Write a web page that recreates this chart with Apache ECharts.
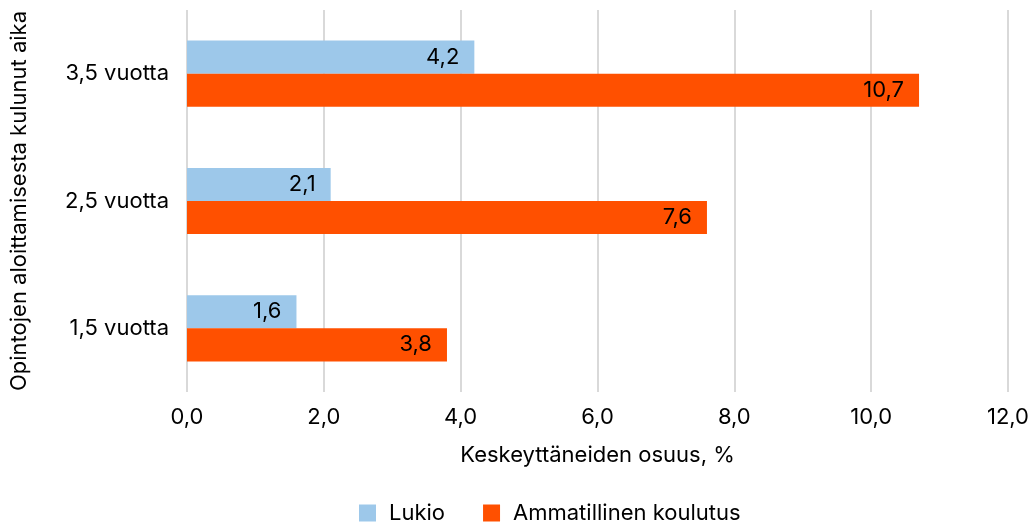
<!DOCTYPE html>
<html>
<head>
<meta charset="utf-8">
<script src="https://cdn.jsdelivr.net/npm/echarts@6/dist/echarts.min.js"></script>
<style>
  html, body { margin: 0; padding: 0; background: #fff; }
  #chart { width: 1032px; height: 529px; }
</style>
</head>
<body>
<div id="chart"></div>
<script>
// kategoriat alhaalta ylös
const categories = ['1,5 vuotta', '2,5 vuotta', '3,5 vuotta'];
const lukio = [1.6, 2.1, 4.2];
const ammatillinen = [3.8, 7.6, 10.7];
const seriesNames = ['Lukio', 'Ammatillinen koulutus'];

const font = 'Inter, Roboto, sans-serif';
const fmt = v => v.toFixed(1).replace('.', ',');

let myChart = echarts.init(document.getElementById('chart'));

let labelOption = {
    show: true,
    position: 'insideRight',
    distance: 15,
    color: '#000',
    fontSize: 22,
    fontFamily: font,
    formatter: p => fmt(p.value)
};

let option = {
    animation: false,
    textStyle: { fontFamily: font },
    legend: {
        data: seriesNames,
        left: 354,
        bottom: 0,
        itemWidth: 17,
        itemHeight: 17,
        itemGap: 38,
        icon: 'rect',
        textStyle: { fontSize: 22, color: '#000', fontFamily: font, padding: [0, 0, 0, 8] }
    },
    grid: {
        left: 185,
        right: 22,
        top: 10,
        bottom: 137
    },
    xAxis: {
        type: 'value',
        min: 0,
        max: 12,
        interval: 2,
        name: 'Keskeyttäneiden osuus, %',
        nameLocation: 'middle',
        nameGap: 52,
        nameTextStyle: { fontSize: 22, color: '#000', fontFamily: font },
        axisLine: { show: false },
        axisTick: { show: false },
        axisLabel: { fontSize: 22, color: '#000', margin: 14, formatter: v => fmt(v) },
        splitLine: { lineStyle: { color: '#d9d9d9', width: 2 } }
    },
    yAxis: {
        type: 'category',
        data: categories,
        name: 'Opintojen aloittamisesta kulunut aika',
        nameLocation: 'middle',
        nameGap: 157,
        nameRotate: 90,
        nameTextStyle: { fontSize: 22, color: '#000', fontFamily: font },
        axisLine: { show: false },
        axisTick: { show: false },
        axisLabel: { fontSize: 22, color: '#000', margin: 18 }
    },
    series: [
        {
            name: 'Lukio',
            type: 'bar',
            data: lukio,
            barGap: 0,
            barCategoryGap: '48%',
            itemStyle: { color: '#9DC8EA' },
            label: labelOption
        },
        {
            name: 'Ammatillinen koulutus',
            type: 'bar',
            data: ammatillinen,
            itemStyle: { color: '#FF5000' },
            label: labelOption
        }
    ]
};
myChart.setOption(option, true);
</script>
</body>
</html>
